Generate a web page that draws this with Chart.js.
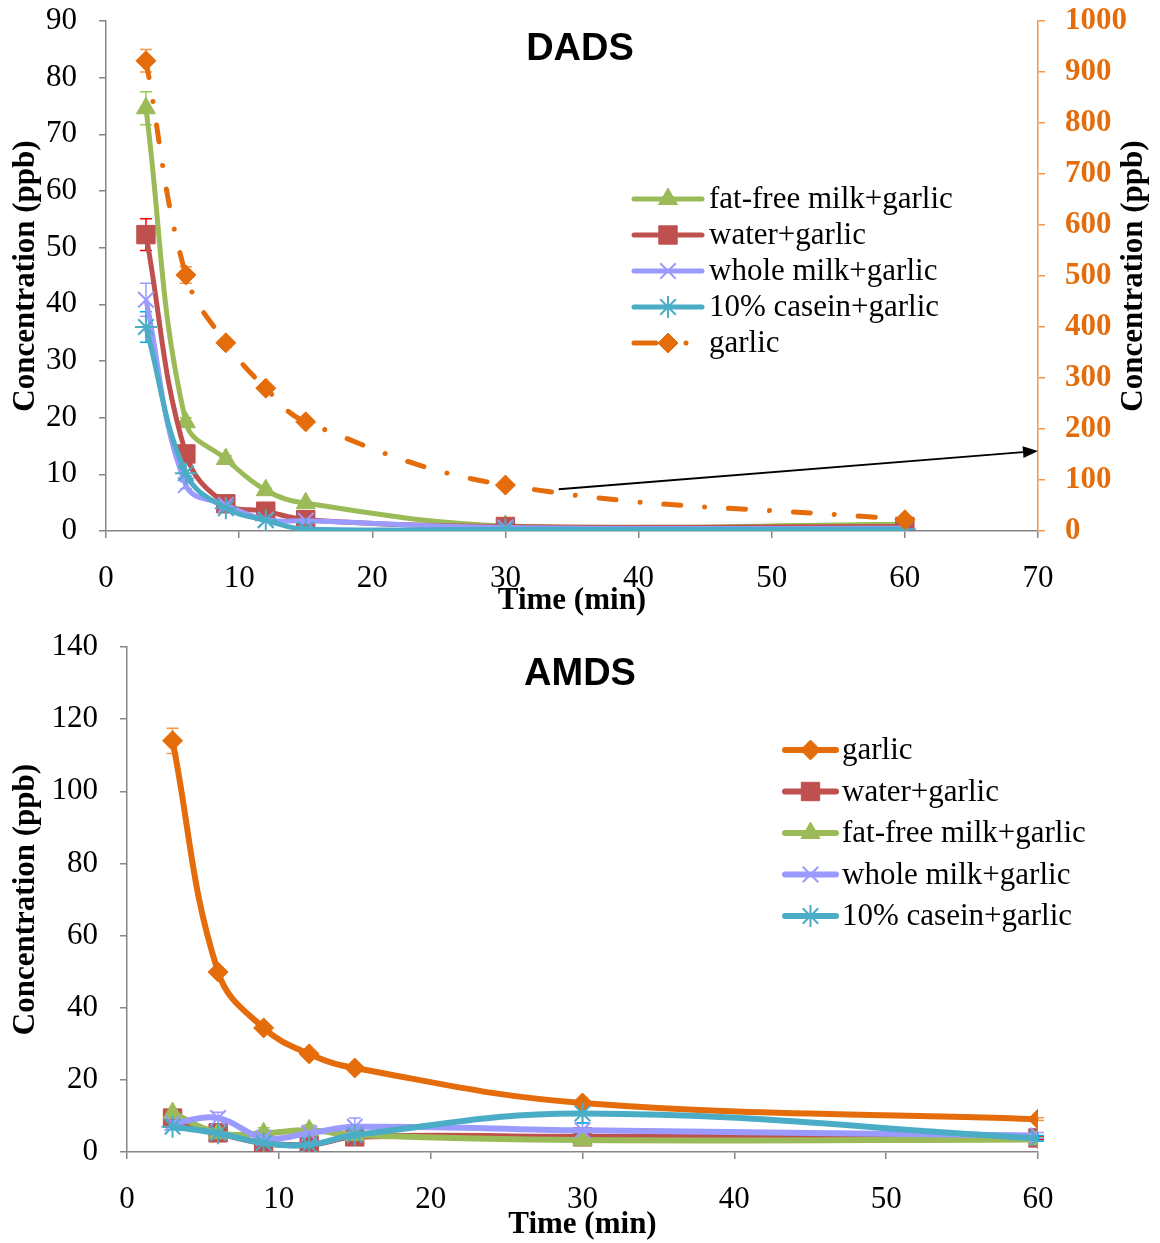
<!DOCTYPE html>
<html>
<head>
<meta charset="utf-8">
<script src="https://cdn.jsdelivr.net/npm/chart.js@4.4.1/dist/chart.umd.min.js"></script>
<style>
  html, body { margin: 0; padding: 0; background: #ffffff; }
  .panel { position: relative; width: 1160px; }
  canvas { display: block; }
</style>
</head>
<body>
<div class="panel"><canvas id="dads" width="1160" height="620"></canvas></div>
<div class="panel"><canvas id="amds" width="1160" height="623"></canvas></div>
<script>
// Sampling times (min)
const times = [3, 6, 9, 12, 15, 30, 60];

// DADS concentrations (ppb); garlic alone is read on the right-hand axis
const dadsFatFree   = [74.6, 19.2, 12.7, 7.2, 4.9, 0.9, 1.2];
const dadsWater     = [52.3, 13.6, 4.8, 3.5, 2.0, 0.8, 0.8];
const dadsWholeMilk = [40.8, 8.1, 4.6, 2.0, 1.8, 0.6, 0.5];
const dadsCasein    = [36.0, 10.2, 4.0, 1.9, 0.3, 0.3, 0.3];
const dadsGarlic    = [922, 502, 369, 280, 214, 90, 22];

// DADS standard deviations
const dadsFatFreeErr   = [2.9, 0.8, 0.6, 0.4, 0.3, 0.1, 0.1];
const dadsWaterErr     = [2.8, 0.6, 0.4, 0.3, 0.2, 0.1, 0.1];
const dadsWholeMilkErr = [2.9, 0.6, 0.4, 0.2, 0.2, 0.1, 0.1];
const dadsCaseinErr    = [2.7, 0.5, 0.3, 0.2, 0.1, 0.1, 0.1];
const dadsGarlicErr    = [22, 16, 8, 6, 5, 4, 2];

// AMDS concentrations (ppb)
const amdsGarlic    = [114.0, 49.9, 34.4, 27.2, 23.3, 13.6, 9.1];
const amdsWater     = [9.4, 5.3, 2.5, 2.0, 4.2, 4.2, 3.9];
const amdsFatFree   = [10.8, 5.2, 5.2, 6.0, 4.7, 3.3, 3.5];
const amdsWholeMilk = [8.0, 9.4, 3.9, 5.2, 7.0, 6.0, 4.6];
const amdsCasein    = [7.0, 5.2, 2.5, 2.0, 4.7, 10.7, 3.8];

// AMDS standard deviations
const amdsGarlicErr    = [3.5, 1.0, 0.8, 0.6, 0.5, 0.5, 0.4];
const amdsWaterErr     = [0.6, 0.5, 0.4, 0.4, 0.4, 0.5, 0.4];
const amdsFatFreeErr   = [1.0, 0.6, 1.5, 1.5, 0.6, 0.5, 0.5];
const amdsWholeMilkErr = [0.8, 1.6, 2.2, 2.0, 2.4, 2.0, 0.8];
const amdsCaseinErr    = [0.8, 0.6, 1.8, 1.6, 1.0, 2.6, 0.8];

// Axis tick settings
const dadsTimeTicks = { min: 0, max: 70, step: 10 };
const dadsLeftTicks = { min: 0, max: 90, step: 10 };
const dadsRightTicks = { min: 0, max: 1000, step: 100 };
const amdsTimeTicks = { min: 0, max: 60, step: 10 };
const amdsLeftTicks = { min: 0, max: 140, step: 20 };

// Callout arrow on the DADS panel: [time, right-axis value] start and end
const dadsArrowFrom = [34, 82];
const dadsArrowTo = [70, 157];

const SERIF = "'Liberation Serif', 'Times New Roman', serif";
const SANS = "'Liberation Sans', Arial, sans-serif";
const AXIS_GREY = '#868686';

const COLORS = {
  green: '#9BBB59', red: '#C0504D', purple: '#9A9AFF', teal: '#4BACC6', orange: '#E46C0A'
};
const ERR_COLORS = {
  green: '#92D050', red: '#FF0000', purple: '#9A9AFF', teal: '#00B0F0', orange: '#F79646'
};

function toPoints(ys) { return times.map((t, i) => ({ x: t, y: ys[i] })); }

function series(label, ys, errs, key, style, opts) {
  const base = {
    label,
    data: toPoints(ys),
    errorBars: errs,
    errorColor: ERR_COLORS[key],
    borderColor: COLORS[key],
    backgroundColor: COLORS[key],
    pointBackgroundColor: COLORS[key],
    pointBorderColor: COLORS[key],
    pointStyle: style.shape,
    pointRadius: style.radius,
    pointBorderWidth: style.bw,
    borderWidth: 5,
    tension: 0.4,
    fill: false,
    yAxisID: 'y'
  };
  return Object.assign(base, opts || {});
}

const MARK = {
  triangle: { shape: 'triangle', radius: 11, bw: 1 },
  square: { shape: 'rect', radius: 13, bw: 1 },
  cross: { shape: 'crossRot', radius: 11, bw: 2 },
  star: { shape: 'star', radius: 11, bw: 2 },
  diamond: { shape: 'rectRot', radius: 10, bw: 1 }
};

// Error bars (under the series), titles, legend and callout
const decorPlugin = {
  id: 'decor',
  beforeDatasetsDraw(chart) {
    const ctx = chart.ctx;
    ctx.save();
    chart.data.datasets.forEach((ds) => {
      if (!ds.errorBars) return;
      const xs = chart.scales.x;
      const ys = chart.scales[ds.yAxisID];
      ctx.strokeStyle = ds.errorColor;
      ctx.lineWidth = 1.5;
      ds.data.forEach((p, i) => {
        const e = ds.errorBars[i];
        if (!e) return;
        const px = xs.getPixelForValue(p.x);
        const top = ys.getPixelForValue(p.y + e);
        const bot = ys.getPixelForValue(Math.max(ys.min, p.y - e));
        ctx.beginPath();
        ctx.moveTo(px, top); ctx.lineTo(px, bot);
        ctx.moveTo(px - 6, top); ctx.lineTo(px + 6, top);
        ctx.moveTo(px - 6, bot); ctx.lineTo(px + 6, bot);
        ctx.stroke();
      });
    });
    ctx.restore();
  },
  afterDatasetsDraw(chart, args, opts) {
    if (!opts.arrow) return;
    const ctx = chart.ctx;
    ctx.save();
    const a = opts.arrow;
    const xs = chart.scales.x, ys = chart.scales[a.axis];
    const x0 = xs.getPixelForValue(a.from[0]), y0 = ys.getPixelForValue(a.from[1]);
    const x1 = xs.getPixelForValue(a.to[0]), y1 = ys.getPixelForValue(a.to[1]);
    const ang = Math.atan2(y1 - y0, x1 - x0);
    const hl = 15, hw = 6;
    const bx = x1 - hl * Math.cos(ang), by = y1 - hl * Math.sin(ang);
    ctx.strokeStyle = '#000'; ctx.fillStyle = '#000'; ctx.lineWidth = 2;
    ctx.beginPath(); ctx.moveTo(x0, y0); ctx.lineTo(bx, by); ctx.stroke();
    ctx.beginPath();
    ctx.moveTo(x1, y1);
    ctx.lineTo(bx + hw * Math.sin(ang), by - hw * Math.cos(ang));
    ctx.lineTo(bx - hw * Math.sin(ang), by + hw * Math.cos(ang));
    ctx.closePath(); ctx.fill();
    ctx.restore();
  },
  afterDraw(chart, args, opts) {
    const ctx = chart.ctx;
    const area = chart.chartArea;
    ctx.save();
    // Chart title
    ctx.fillStyle = '#000';
    ctx.font = "bold 38px " + SANS;
    ctx.textAlign = 'center'; ctx.textBaseline = 'middle';
    ctx.fillText(opts.title, chart.width / 2, opts.titleY);
    // Axis titles
    ctx.font = "bold 31px " + SERIF;
    ctx.fillText('Time (min)', (area.left + area.right) / 2, opts.xTitleY);
    const midY = (area.top + area.bottom) / 2;
    opts.yTitles.forEach((tx) => {
      ctx.save();
      ctx.translate(tx, midY);
      ctx.rotate(-Math.PI / 2);
      ctx.fillText('Concentration (ppb)', 0, 0);
      ctx.restore();
    });
    // Legend
    const lg = opts.legend;
    ctx.font = "31px " + SERIF;
    ctx.textAlign = 'left';
    lg.order.forEach((dsIndex, row) => {
      const ds = chart.data.datasets[dsIndex];
      const y = lg.y + row * lg.gap;
      ctx.save();
      ctx.strokeStyle = ds.borderColor;
      ctx.lineWidth = ds.borderWidth;
      ctx.lineCap = 'round';
      ctx.setLineDash(ds.borderDash ? lg.legendDash : []);
      ctx.beginPath();
      ctx.moveTo(lg.x0, y); ctx.lineTo(lg.x1, y);
      ctx.stroke();
      ctx.restore();
      ctx.fillStyle = ds.pointBackgroundColor;
      ctx.strokeStyle = ds.pointBorderColor;
      ctx.lineWidth = ds.pointBorderWidth;
      ctx.setLineDash([]);
      Chart.helpers.drawPoint(ctx, {
        pointStyle: ds.pointStyle, radius: ds.pointRadius, rotation: 0,
        borderWidth: ds.pointBorderWidth
      }, (lg.x0 + lg.x1) / 2, y);
      ctx.fillStyle = '#000';
      ctx.fillText(ds.label, lg.textX, y + 1);
    });
    ctx.restore();
  }
};

// Scales keep only their own box; label overhang must not shift the plot area
function noOverhang(s) {
  s.paddingTop = 0; s.paddingBottom = 0; s.paddingLeft = 0; s.paddingRight = 0;
}

function axis(position, t, extra) {
  const a = {
    type: 'linear', position,
    min: t.min, max: t.max,
    ticks: {
      stepSize: t.step, color: '#000', padding: 22, font: { family: SERIF, size: 31 },
      callback: (v) => String(v)
    },
    grid: { drawOnChartArea: false, drawTicks: true, tickLength: 7, color: AXIS_GREY, lineWidth: 1.5 },
    border: { display: true, color: AXIS_GREY, width: 1.5 }
  };
  return Object.assign(a, extra || {});
}

// ---------- DADS ----------
const dadsGarlicDash = [17, 24, 0.01, 24];
new Chart(document.getElementById('dads'), {
  type: 'line',
  data: {
    datasets: [
      series('fat-free milk+garlic', dadsFatFree, dadsFatFreeErr, 'green', MARK.triangle, { order: 4 }),
      series('water+garlic', dadsWater, dadsWaterErr, 'red', MARK.square, { order: 3 }),
      series('whole milk+garlic', dadsWholeMilk, dadsWholeMilkErr, 'purple', MARK.cross, { order: 2 }),
      series('10% casein+garlic', dadsCasein, dadsCaseinErr, 'teal', MARK.star, { order: 1 }),
      series('garlic', dadsGarlic, dadsGarlicErr, 'orange', MARK.diamond,
        { order: 0, yAxisID: 'y1', borderDash: dadsGarlicDash, borderCapStyle: 'round' })
    ]
  },
  options: {
    responsive: false, animation: false, events: [],
    layout: { padding: { top: 21, left: 0, right: 0, bottom: 0 } },
    scales: {
      x: axis('bottom', dadsTimeTicks, { afterFit(s) { noOverhang(s); s.height = 89; } }),
      y: axis('left', dadsLeftTicks, { afterFit(s) { noOverhang(s); s.width = 106; } }),
      y1: axis('right', dadsRightTicks, {
        ticks: {
          stepSize: dadsRightTicks.step, color: '#E46C0A', padding: 20,
          font: { family: SERIF, size: 31, weight: 'bold' }, callback: (v) => String(v)
        },
        grid: { drawOnChartArea: false, drawTicks: true, tickLength: 7, color: '#F79646', lineWidth: 1.5 },
        border: { display: true, color: '#F79646', width: 1.5 },
        afterFit(s) { noOverhang(s); s.width = 122; }
      })
    },
    plugins: {
      legend: { display: false }, tooltip: { enabled: false },
      decor: {
        title: 'DADS', titleY: 50, xTitleY: 601, yTitles: [26, 1134],
        legend: { order: [0, 1, 2, 3, 4], x0: 634, x1: 702, textX: 709, y: 199, gap: 36, legendDash: [22, 30, 0.01, 20] },
        arrow: { axis: 'y1', from: dadsArrowFrom, to: dadsArrowTo }
      }
    }
  },
  plugins: [decorPlugin]
});

// ---------- AMDS ----------
function thick(o) { return Object.assign({ borderWidth: 6 }, o); }
new Chart(document.getElementById('amds'), {
  type: 'line',
  data: {
    datasets: [
      series('garlic', amdsGarlic, amdsGarlicErr, 'orange', MARK.diamond, thick({ order: 4 })),
      series('water+garlic', amdsWater, amdsWaterErr, 'red', MARK.square, thick({ order: 3 })),
      series('fat-free milk+garlic', amdsFatFree, amdsFatFreeErr, 'green', MARK.triangle, thick({ order: 2 })),
      series('whole milk+garlic', amdsWholeMilk, amdsWholeMilkErr, 'purple', MARK.cross, thick({ order: 1 })),
      series('10% casein+garlic', amdsCasein, amdsCaseinErr, 'teal', MARK.star, thick({ order: 0 }))
    ]
  },
  options: {
    responsive: false, animation: false, events: [],
    layout: { padding: { top: 27, left: 0, right: 122, bottom: 0 } },
    scales: {
      x: axis('bottom', amdsTimeTicks, { afterFit(s) { noOverhang(s); s.height = 91; } }),
      y: axis('left', amdsLeftTicks, { afterFit(s) { noOverhang(s); s.width = 127; } })
    },
    plugins: {
      legend: { display: false }, tooltip: { enabled: false },
      decor: {
        title: 'AMDS', titleY: 55, xTitleY: 605, yTitles: [26],
        legend: { order: [0, 1, 2, 3, 4], x0: 785, x1: 836, textX: 842, y: 130, gap: 41.5, legendDash: [] }
      }
    }
  },
  plugins: [decorPlugin]
});
</script>
</body>
</html>
